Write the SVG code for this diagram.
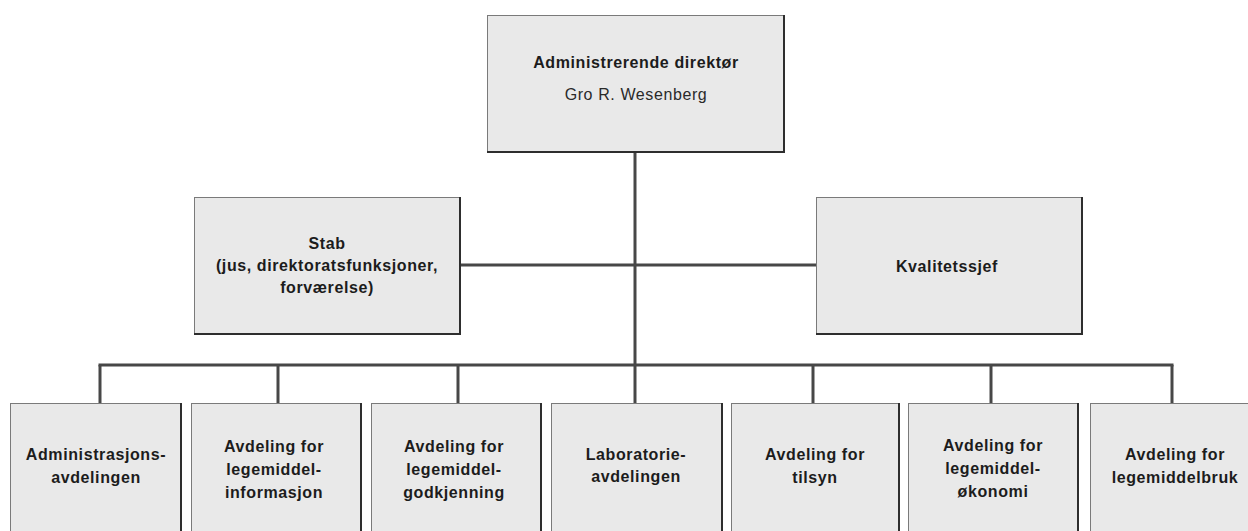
<svg xmlns="http://www.w3.org/2000/svg" width="1248" height="531" viewBox="0 0 1248 531">
<style>
.box{fill:#e9e9e9;stroke:#7a7a7a;stroke-width:1}
.sh{fill:none;stroke:#2e2e2e;stroke-width:2}
.t{font-family:"Liberation Sans",Arial,sans-serif;font-size:16px;font-weight:bold;fill:#1c1c1c;text-anchor:middle;letter-spacing:0.6px}
.n{font-family:"Liberation Sans",Arial,sans-serif;font-size:16px;fill:#2a2a2a;text-anchor:middle;letter-spacing:0.6px}
.c{fill:none;stroke:#474747;stroke-width:3}
</style>
<rect width="1248" height="531" fill="#ffffff"/>
<g id="connectors">
<line class="c" x1="635" y1="152" x2="635" y2="403"/>
<line class="c" x1="460" y1="265" x2="816" y2="265"/>
<line class="c" x1="98.5" y1="365" x2="1173.5" y2="365"/>
<line class="c" x1="100" y1="365" x2="100" y2="403"/>
<line class="c" x1="278" y1="365" x2="278" y2="403"/>
<line class="c" x1="458" y1="365" x2="458" y2="403"/>
<line class="c" x1="813" y1="365" x2="813" y2="403"/>
<line class="c" x1="991" y1="365" x2="991" y2="403"/>
<line class="c" x1="1172" y1="365" x2="1172" y2="403"/>
</g>
<g id="direktor">
<rect class="box" x="487.5" y="15.5" width="296" height="136"/>
<path class="sh" d="M784,15 V152 H487"/>
<text class="t" x="636" y="68">Administrerende direktør</text>
<text class="n" x="636" y="100">Gro R. Wesenberg</text>
</g>
<g id="stab">
<rect class="box" x="194.5" y="197.5" width="265" height="136"/>
<path class="sh" d="M460,197 V334 H194"/>
<text class="t" x="327" y="249">Stab</text>
<text class="t" x="327" y="271">(jus, direktoratsfunksjoner,</text>
<text class="t" x="327" y="293">forværelse)</text>
</g>
<g id="kvalitet">
<rect class="box" x="816.5" y="197.5" width="265" height="136"/>
<path class="sh" d="M1082,197 V334 H816"/>
<text class="t" x="947" y="272">Kvalitetssjef</text>
</g>
<g id="adm">
<rect class="box" x="10.5" y="403.5" width="170" height="140"/>
<path class="sh" d="M181,403 V540"/>
<text class="t" x="96" y="460">Administrasjons-</text>
<text class="t" x="96" y="483">avdelingen</text>
</g>
<g id="info">
<rect class="box" x="191.5" y="403.5" width="169" height="140"/>
<path class="sh" d="M361,403 V540"/>
<text class="t" x="274" y="452">Avdeling for</text>
<text class="t" x="274" y="475">legemiddel-</text>
<text class="t" x="274" y="498">informasjon</text>
</g>
<g id="godkj">
<rect class="box" x="371.5" y="403.5" width="169" height="140"/>
<path class="sh" d="M541,403 V540"/>
<text class="t" x="454" y="452">Avdeling for</text>
<text class="t" x="454" y="475">legemiddel-</text>
<text class="t" x="454" y="498">godkjenning</text>
</g>
<g id="lab">
<rect class="box" x="551.5" y="403.5" width="170" height="140"/>
<path class="sh" d="M722,403 V540"/>
<text class="t" x="636" y="460">Laboratorie-</text>
<text class="t" x="636" y="482">avdelingen</text>
</g>
<g id="tilsyn">
<rect class="box" x="731.5" y="403.5" width="167" height="140"/>
<path class="sh" d="M899,403 V540"/>
<text class="t" x="815" y="460">Avdeling for</text>
<text class="t" x="815" y="483">tilsyn</text>
</g>
<g id="okonomi">
<rect class="box" x="908.5" y="403.5" width="169" height="140"/>
<path class="sh" d="M1078,403 V540"/>
<text class="t" x="993" y="451">Avdeling for</text>
<text class="t" x="993" y="474">legemiddel-</text>
<text class="t" x="993" y="497">økonomi</text>
</g>
<g id="bruk">
<rect class="box" x="1090.5" y="403.5" width="170" height="140"/>
<text class="t" x="1175" y="460">Avdeling for</text>
<text class="t" x="1175" y="483">legemiddelbruk</text>
</g>
</svg>
